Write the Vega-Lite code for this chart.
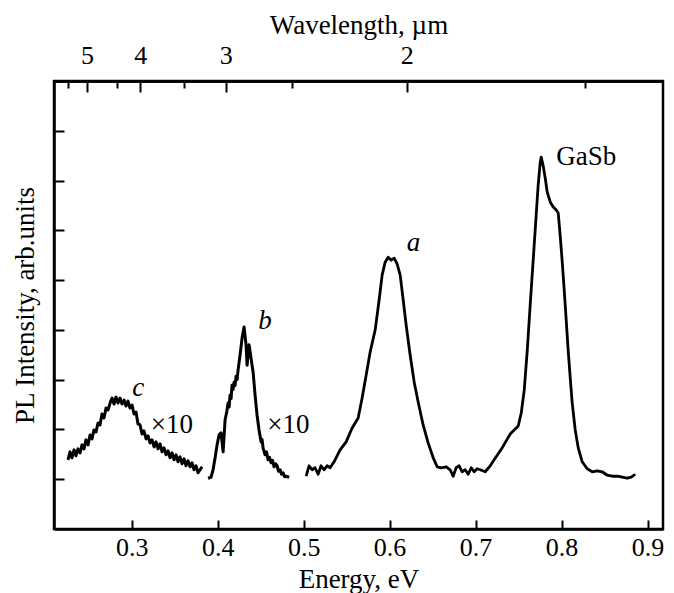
{
  "$schema": "https://vega.github.io/schema/vega-lite/v6.json",
  "width": 609,
  "height": 448,
  "autosize": "none",
  "padding": {"left": 54, "top": 81, "right": 11, "bottom": 64},
  "background": "white",
  "config": {
    "view": {"stroke": "black", "strokeWidth": 2.5},
    "font": "Liberation Serif",
    "axis": {
      "domainColor": "black", "domainWidth": 2.5, "tickColor": "black", "tickWidth": 2,
      "labelColor": "black", "titleColor": "black", "labelFont": "Liberation Serif", "titleFont": "Liberation Serif",
      "labelFontSize": 26, "titleFontSize": 27, "titleFontWeight": "normal", "grid": false
    }
  },
  "datasets": {
    "spectra": [
      {"s":"c","E":0.2259,"I":1.39},{"s":"c","E":0.2282,"I":1.55},{"s":"c","E":0.2305,"I":1.43},{"s":"c","E":0.2329,"I":1.59},{"s":"c","E":0.2352,"I":1.47},{"s":"c","E":0.2375,"I":1.61},{"s":"c","E":0.2399,"I":1.53},{"s":"c","E":0.2422,"I":1.69},{"s":"c","E":0.2445,"I":1.61},{"s":"c","E":0.2468,"I":1.79},{"s":"c","E":0.2492,"I":1.69},{"s":"c","E":0.2515,"I":1.89},{"s":"c","E":0.2538,"I":1.81},{"s":"c","E":0.2561,"I":1.99},{"s":"c","E":0.2585,"I":1.95},{"s":"c","E":0.2608,"I":2.13},{"s":"c","E":0.2631,"I":2.09},{"s":"c","E":0.2654,"I":2.31},{"s":"c","E":0.2678,"I":2.23},{"s":"c","E":0.2701,"I":2.43},{"s":"c","E":0.2724,"I":2.39},{"s":"c","E":0.2748,"I":2.53},{"s":"c","E":0.2771,"I":2.63},{"s":"c","E":0.2794,"I":2.51},{"s":"c","E":0.2817,"I":2.65},{"s":"c","E":0.2841,"I":2.53},{"s":"c","E":0.2864,"I":2.63},{"s":"c","E":0.2887,"I":2.51},{"s":"c","E":0.2911,"I":2.59},{"s":"c","E":0.2934,"I":2.47},{"s":"c","E":0.2957,"I":2.57},{"s":"c","E":0.2980,"I":2.43},{"s":"c","E":0.3004,"I":2.49},{"s":"c","E":0.3027,"I":2.31},{"s":"c","E":0.3050,"I":2.35},{"s":"c","E":0.3073,"I":2.11},{"s":"c","E":0.3097,"I":2.09},{"s":"c","E":0.3120,"I":1.91},{"s":"c","E":0.3143,"I":1.97},{"s":"c","E":0.3167,"I":1.81},{"s":"c","E":0.3190,"I":1.87},{"s":"c","E":0.3213,"I":1.73},{"s":"c","E":0.3236,"I":1.79},{"s":"c","E":0.3260,"I":1.65},{"s":"c","E":0.3283,"I":1.75},{"s":"c","E":0.3306,"I":1.61},{"s":"c","E":0.3330,"I":1.71},{"s":"c","E":0.3353,"I":1.55},{"s":"c","E":0.3376,"I":1.63},{"s":"c","E":0.3399,"I":1.49},{"s":"c","E":0.3423,"I":1.57},{"s":"c","E":0.3446,"I":1.43},{"s":"c","E":0.3469,"I":1.53},{"s":"c","E":0.3492,"I":1.39},{"s":"c","E":0.3516,"I":1.49},{"s":"c","E":0.3539,"I":1.35},{"s":"c","E":0.3562,"I":1.45},{"s":"c","E":0.3586,"I":1.31},{"s":"c","E":0.3609,"I":1.41},{"s":"c","E":0.3632,"I":1.27},{"s":"c","E":0.3655,"I":1.37},{"s":"c","E":0.3679,"I":1.25},{"s":"c","E":0.3702,"I":1.33},{"s":"c","E":0.3725,"I":1.19},{"s":"c","E":0.3748,"I":1.27},{"s":"c","E":0.3772,"I":1.13},{"s":"c","E":0.3795,"I":1.19},{"s":"c","E":0.3818,"I":1.25},
      {"s":"b","E":0.3888,"I":1.02},{"s":"b","E":0.3923,"I":1.04},{"s":"b","E":0.3946,"I":1.19},{"s":"b","E":0.3970,"I":1.43},{"s":"b","E":0.3993,"I":1.69},{"s":"b","E":0.4016,"I":1.89},{"s":"b","E":0.4039,"I":1.93},{"s":"b","E":0.4063,"I":1.55},{"s":"b","E":0.4086,"I":2.19},{"s":"b","E":0.4105,"I":2.35},{"s":"b","E":0.4121,"I":2.53},{"s":"b","E":0.4133,"I":2.45},{"s":"b","E":0.4144,"I":2.69},{"s":"b","E":0.4156,"I":2.62},{"s":"b","E":0.4167,"I":2.89},{"s":"b","E":0.4179,"I":2.80},{"s":"b","E":0.4191,"I":2.95},{"s":"b","E":0.4202,"I":2.88},{"s":"b","E":0.4214,"I":3.07},{"s":"b","E":0.4226,"I":3.00},{"s":"b","E":0.4237,"I":3.19},{"s":"b","E":0.4260,"I":3.49},{"s":"b","E":0.4284,"I":3.84},{"s":"b","E":0.4307,"I":4.06},{"s":"b","E":0.4330,"I":3.70},{"s":"b","E":0.4342,"I":3.29},{"s":"b","E":0.4365,"I":3.70},{"s":"b","E":0.4388,"I":3.43},{"s":"b","E":0.4412,"I":3.15},{"s":"b","E":0.4435,"I":2.69},{"s":"b","E":0.4458,"I":2.29},{"s":"b","E":0.4481,"I":1.99},{"s":"b","E":0.4505,"I":1.75},{"s":"b","E":0.4516,"I":1.80},{"s":"b","E":0.4528,"I":1.63},{"s":"b","E":0.4551,"I":1.49},{"s":"b","E":0.4568,"I":1.55},{"s":"b","E":0.4586,"I":1.39},{"s":"b","E":0.4603,"I":1.44},{"s":"b","E":0.4621,"I":1.33},{"s":"b","E":0.4638,"I":1.38},{"s":"b","E":0.4656,"I":1.25},{"s":"b","E":0.4673,"I":1.31},{"s":"b","E":0.4691,"I":1.27},{"s":"b","E":0.4708,"I":1.16},{"s":"b","E":0.4726,"I":1.19},{"s":"b","E":0.4743,"I":1.10},{"s":"b","E":0.4761,"I":1.13},{"s":"b","E":0.4778,"I":1.05},{"s":"b","E":0.4796,"I":1.06},{"s":"b","E":0.4831,"I":1.04},
      {"s":"a","E":0.5029,"I":1.06},{"s":"a","E":0.5063,"I":1.27},{"s":"a","E":0.5098,"I":1.19},{"s":"a","E":0.5133,"I":1.23},{"s":"a","E":0.5168,"I":1.10},{"s":"a","E":0.5203,"I":1.27},{"s":"a","E":0.5238,"I":1.19},{"s":"a","E":0.5273,"I":1.27},{"s":"a","E":0.5308,"I":1.23},{"s":"a","E":0.5354,"I":1.35},{"s":"a","E":0.5424,"I":1.59},{"s":"a","E":0.5494,"I":1.75},{"s":"a","E":0.5564,"I":2.03},{"s":"a","E":0.5634,"I":2.23},{"s":"a","E":0.5680,"I":2.63},{"s":"a","E":0.5727,"I":3.09},{"s":"a","E":0.5773,"I":3.55},{"s":"a","E":0.5832,"I":4.00},{"s":"a","E":0.5878,"I":4.60},{"s":"a","E":0.5913,"I":5.10},{"s":"a","E":0.5948,"I":5.36},{"s":"a","E":0.5983,"I":5.46},{"s":"a","E":0.6018,"I":5.40},{"s":"a","E":0.6053,"I":5.44},{"s":"a","E":0.6088,"I":5.32},{"s":"a","E":0.6123,"I":5.10},{"s":"a","E":0.6158,"I":4.60},{"s":"a","E":0.6192,"I":4.10},{"s":"a","E":0.6239,"I":3.49},{"s":"a","E":0.6286,"I":2.95},{"s":"a","E":0.6332,"I":2.55},{"s":"a","E":0.6390,"I":2.09},{"s":"a","E":0.6448,"I":1.73},{"s":"a","E":0.6507,"I":1.43},{"s":"a","E":0.6553,"I":1.25},{"s":"a","E":0.6600,"I":1.23},{"s":"a","E":0.6658,"I":1.25},{"s":"a","E":0.6704,"I":1.19},{"s":"a","E":0.6739,"I":1.06},{"s":"a","E":0.6774,"I":1.23},{"s":"a","E":0.6809,"I":1.27},{"s":"a","E":0.6844,"I":1.15},{"s":"a","E":0.6879,"I":1.19},{"s":"a","E":0.6914,"I":1.10},{"s":"a","E":0.6949,"I":1.23},{"s":"a","E":0.6983,"I":1.15},{"s":"a","E":0.7018,"I":1.21},
      {"s":"a","E":0.7053,"I":1.19},{"s":"a","E":0.7112,"I":1.15},{"s":"a","E":0.7170,"I":1.27},{"s":"a","E":0.7216,"I":1.39},{"s":"a","E":0.7263,"I":1.51},{"s":"a","E":0.7309,"I":1.63},{"s":"a","E":0.7356,"I":1.77},{"s":"a","E":0.7403,"I":1.91},{"s":"a","E":0.7449,"I":1.99},{"s":"a","E":0.7496,"I":2.07},{"s":"a","E":0.7531,"I":2.33},{"s":"a","E":0.7566,"I":2.79},{"s":"a","E":0.7601,"I":3.59},{"s":"a","E":0.7635,"I":4.50},{"s":"a","E":0.7670,"I":5.40},{"s":"a","E":0.7705,"I":6.31},{"s":"a","E":0.7728,"I":6.91},{"s":"a","E":0.7752,"I":7.37},{"s":"a","E":0.7763,"I":7.47},{"s":"a","E":0.7787,"I":7.29},{"s":"a","E":0.7810,"I":7.05},{"s":"a","E":0.7833,"I":6.77},{"s":"a","E":0.7868,"I":6.57},{"s":"a","E":0.7903,"I":6.47},{"s":"a","E":0.7938,"I":6.41},{"s":"a","E":0.7961,"I":6.35},{"s":"a","E":0.7984,"I":5.90},{"s":"a","E":0.8008,"I":5.36},{"s":"a","E":0.8031,"I":4.80},{"s":"a","E":0.8054,"I":4.20},{"s":"a","E":0.8077,"I":3.59},{"s":"a","E":0.8101,"I":3.03},{"s":"a","E":0.8124,"I":2.53},{"s":"a","E":0.8159,"I":1.99},{"s":"a","E":0.8194,"I":1.63},{"s":"a","E":0.8240,"I":1.35},{"s":"a","E":0.8298,"I":1.21},{"s":"a","E":0.8357,"I":1.15},{"s":"a","E":0.8415,"I":1.17},{"s":"a","E":0.8473,"I":1.15},{"s":"a","E":0.8531,"I":1.08},{"s":"a","E":0.8590,"I":1.06},{"s":"a","E":0.8648,"I":1.06},{"s":"a","E":0.8706,"I":1.04},{"s":"a","E":0.8764,"I":1.02},{"s":"a","E":0.8811,"I":1.04},{"s":"a","E":0.8857,"I":1.10}
    ],
    "italicLabels": [
      {"E": 0.3077, "I": 2.83, "t": "c"},
      {"E": 0.4551, "I": 4.18, "t": "b"},
      {"E": 0.6277, "I": 5.74, "t": "a"}
    ],
    "plainLabels": [
      {"E": 0.3466, "I": 2.09, "t": "×10"},
      {"E": 0.4823, "I": 2.09, "t": "×10"},
      {"E": 0.8287, "I": 7.47, "t": "GaSb"}
    ]
  },
  "layer": [
    {
      "data": {"name": "spectra"},
      "transform": [{"filter": "datum.s !== 'a'"}],
      "mark": {"type": "line", "color": "black", "strokeWidth": 3, "strokeJoin": "round"},
      "encoding": {
        "x": {"field": "E", "type": "quantitative", "scale": {"domain": [0.2096, 0.918], "nice": false, "zero": false},
              "axis": {"orient": "bottom", "values": [0.3, 0.4, 0.5, 0.6, 0.7, 0.8, 0.9], "format": ".1f", "tickSize": -9, "labelPadding": 14, "title": "Energy, eV", "titlePadding": 6}},
        "y": {"field": "I", "type": "quantitative", "scale": {"domain": [0, 9], "nice": false, "zero": false},
              "axis": {"values": [1, 2, 3, 4, 5, 6, 7, 8], "labels": false, "tickSize": -10, "title": "PL Intensity, arb.units", "titlePadding": 14}},
        "detail": {"field": "s"}
      }
    },
    {
      "data": {"name": "spectra"},
      "transform": [{"filter": "datum.s === 'a'"}],
      "mark": {"type": "line", "color": "black", "strokeWidth": 2.8, "strokeJoin": "round"},
      "encoding": {
        "x": {"field": "E", "type": "quantitative", "scale": {"domain": [0.2096, 0.918], "nice": false, "zero": false},
              "axis": {"orient": "top", "values": [0.248, 0.31, 0.4095, 0.62], "labelExpr": "format(1.24/datum.value, '.0f')", "tickSize": -11, "labelPadding": 24, "title": "Wavelength, µm", "titlePadding": 3}},
        "y": {"field": "I", "type": "quantitative", "scale": {"domain": [0, 9], "nice": false, "zero": false},
              "axis": {"values": [1, 2, 3, 4, 5, 6, 7, 8], "labels": false, "tickSize": -10, "title": "PL Intensity, arb.units", "titlePadding": 14}}
      }
    },
    {
      "data": {"name": "italicLabels"},
      "mark": {"type": "text", "font": "Liberation Serif", "fontSize": 27, "fontStyle": "italic", "color": "black", "baseline": "middle", "align": "center"},
      "encoding": {
        "x": {"field": "E", "type": "quantitative", "scale": {"domain": [0.2096, 0.918], "nice": false, "zero": false},
              "axis": {"orient": "top", "values": [0.2254, 0.283, 0.361, 0.487, 0.8267], "labels": false, "tickSize": -7, "title": null}},
        "y": {"field": "I", "type": "quantitative", "scale": {"domain": [0, 9], "nice": false, "zero": false},
              "axis": {"values": [1, 2, 3, 4, 5, 6, 7, 8], "labels": false, "tickSize": -10, "title": "PL Intensity, arb.units", "titlePadding": 14}},
        "text": {"field": "t"}
      }
    },
    {
      "data": {"name": "plainLabels"},
      "mark": {"type": "text", "font": "Liberation Serif", "fontSize": 27, "color": "black", "baseline": "middle", "align": "center"},
      "encoding": {
        "x": {"field": "E", "type": "quantitative", "scale": {"domain": [0.2096, 0.918], "nice": false, "zero": false}, "axis": null},
        "y": {"field": "I", "type": "quantitative", "scale": {"domain": [0, 9], "nice": false, "zero": false},
              "axis": {"values": [1, 2, 3, 4, 5, 6, 7, 8], "labels": false, "tickSize": -10, "title": "PL Intensity, arb.units", "titlePadding": 14}},
        "text": {"field": "t"}
      }
    }
  ],
  "resolve": {"axis": {"x": "independent"}}
}
